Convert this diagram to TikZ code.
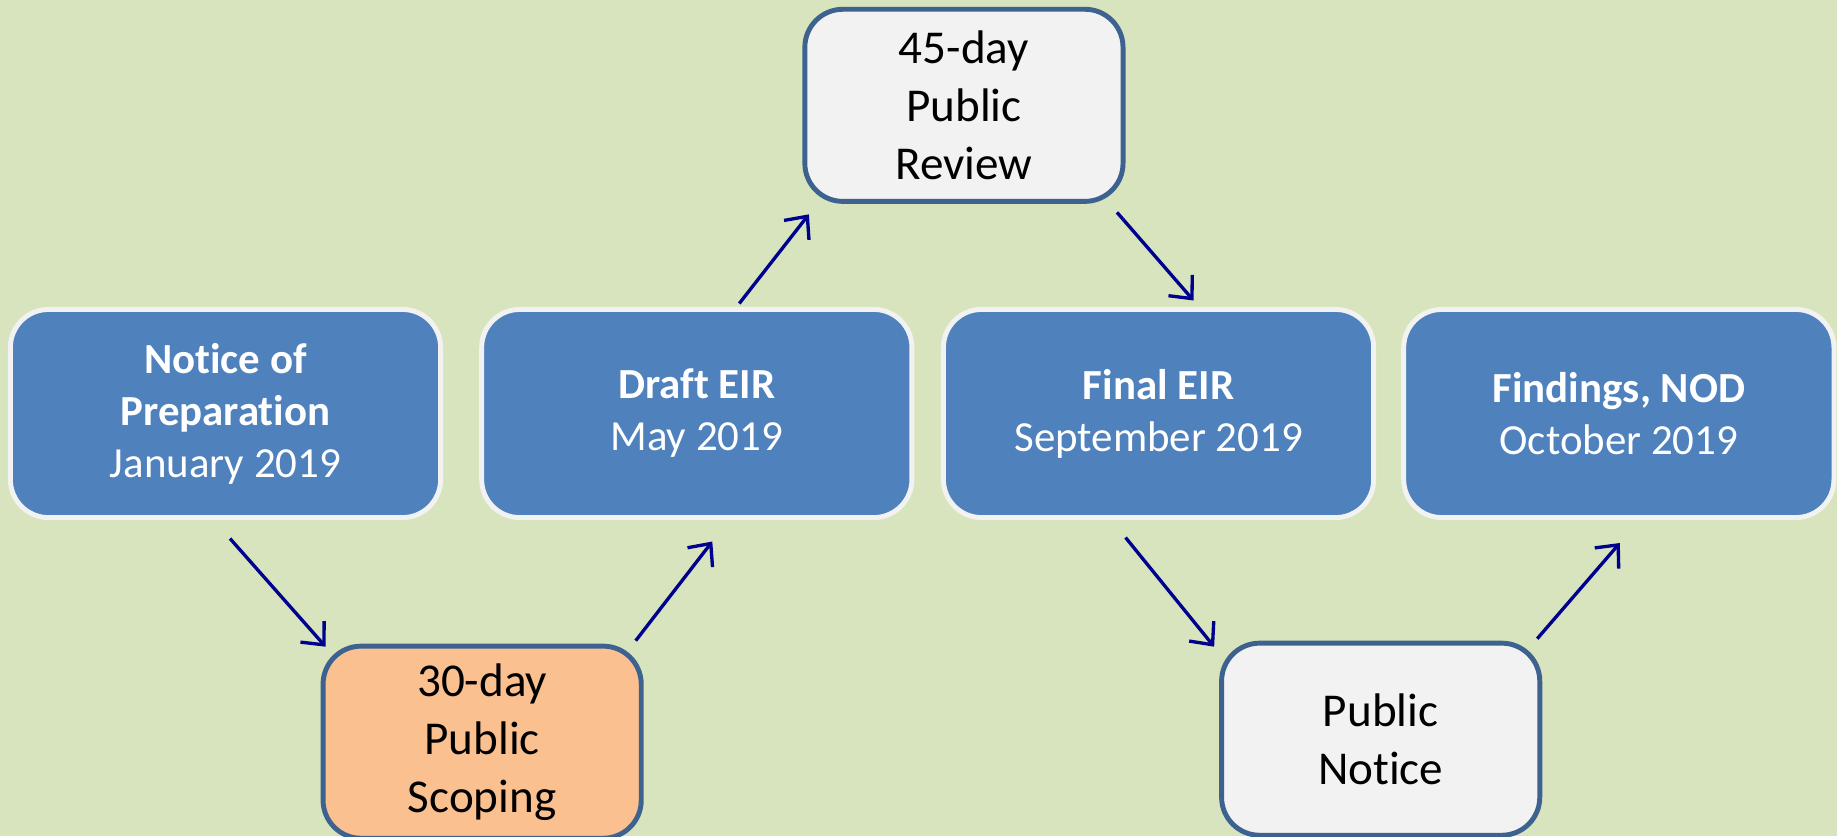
\documentclass[tikz,border=0pt]{standalone}
\usepackage{fontspec}
\setmainfont[Ligatures=NoCommon]{Carlito}
\usepackage{tikz}
\usetikzlibrary{arrows.meta}
\usetikzlibrary{positioning}
\definecolor{bggreen}{HTML}{D7E4BD}
\definecolor{stepblue}{HTML}{4F81BD}
\definecolor{paleline}{HTML}{F2F2F2}
\definecolor{paleorange}{HTML}{FAC090}
\definecolor{darkrim}{HTML}{3E6290}
\definecolor{arrowblue}{HTML}{00008F}
\tikzset{>={Straight Barb[length=5pt,width=9pt]}}

\begin{document}
\begin{tikzpicture}[x=0.01cm, y=-0.01cm, node distance=3cm, on grid,
    box/.style={rectangle, rounded corners=0.38cm, line width=1.4pt, align=center, inner sep=0pt},
    bluebox/.style={box, fill=stepblue, draw=paleline, text=white, minimum width=4.3cm, minimum height=2.08cm, font=\fontsize{12.2}{14.8}\selectfont},
    palebox/.style={box, fill=paleline, draw=darkrim, text=black, minimum width=3.18cm, minimum height=1.92cm, font=\fontsize{13.4}{16.4}\selectfont},
    link/.style={->, draw=arrowblue, line width=0.95pt}]
		\fill[bggreen] (0,0) rectangle (1837,836);
		\useasboundingbox (0,0) rectangle (1837,836);

		\node[bluebox] (nop) at (225.5,413.5) {\textbf{Notice of}\\\textbf{Preparation}\\January 2019};
		\node[bluebox] (draft) [right=4.71cm of nop] {\textbf{Draft EIR}\\May 2019};
		\node[bluebox] (final) [right=4.615cm of draft] {\textbf{Final EIR}\\September 2019};
		\node[bluebox] (nod) [right=4.6cm of final] {\textbf{Findings, NOD}\\October 2019};
		\node[palebox] (review) [above right=3.08cm and 2.67cm of draft] {45-day\\Public\\Review};
		\node[palebox, fill=paleorange] (scoping) [below right=3.285cm and 2.565cm of nop] {30-day\\Public\\Scoping};
		\node[palebox] (pubnotice) [below right=3.255cm and 2.22cm of final] {Public\\Notice};

		\draw[link] ([shift={(4.5,18.5)}]nop.south) -- ([shift={(5,3)}]scoping.north west);
		\draw[link] ([shift={(-8,-3)}]scoping.north east) -- ([shift={(15.5,21.5)}]draft.south);
		\draw[link] ([shift={(42.5,-3.5)}]draft.north) -- ([shift={(6.5,10.5)}]review.south west);
		\draw[link] ([shift={(-8.5,8.5)}]review.south east) -- ([shift={(35,-6.5)}]final.north);
		\draw[link] ([shift={(-33,17.5)}]final.south) -- ([shift={(-5,6)}]pubnotice.north west);
		\draw[link] ([shift={(-5,-2)}]pubnotice.north east) -- ([shift={(1,23)}]nod.south);
	\end{tikzpicture}
\end{document}
